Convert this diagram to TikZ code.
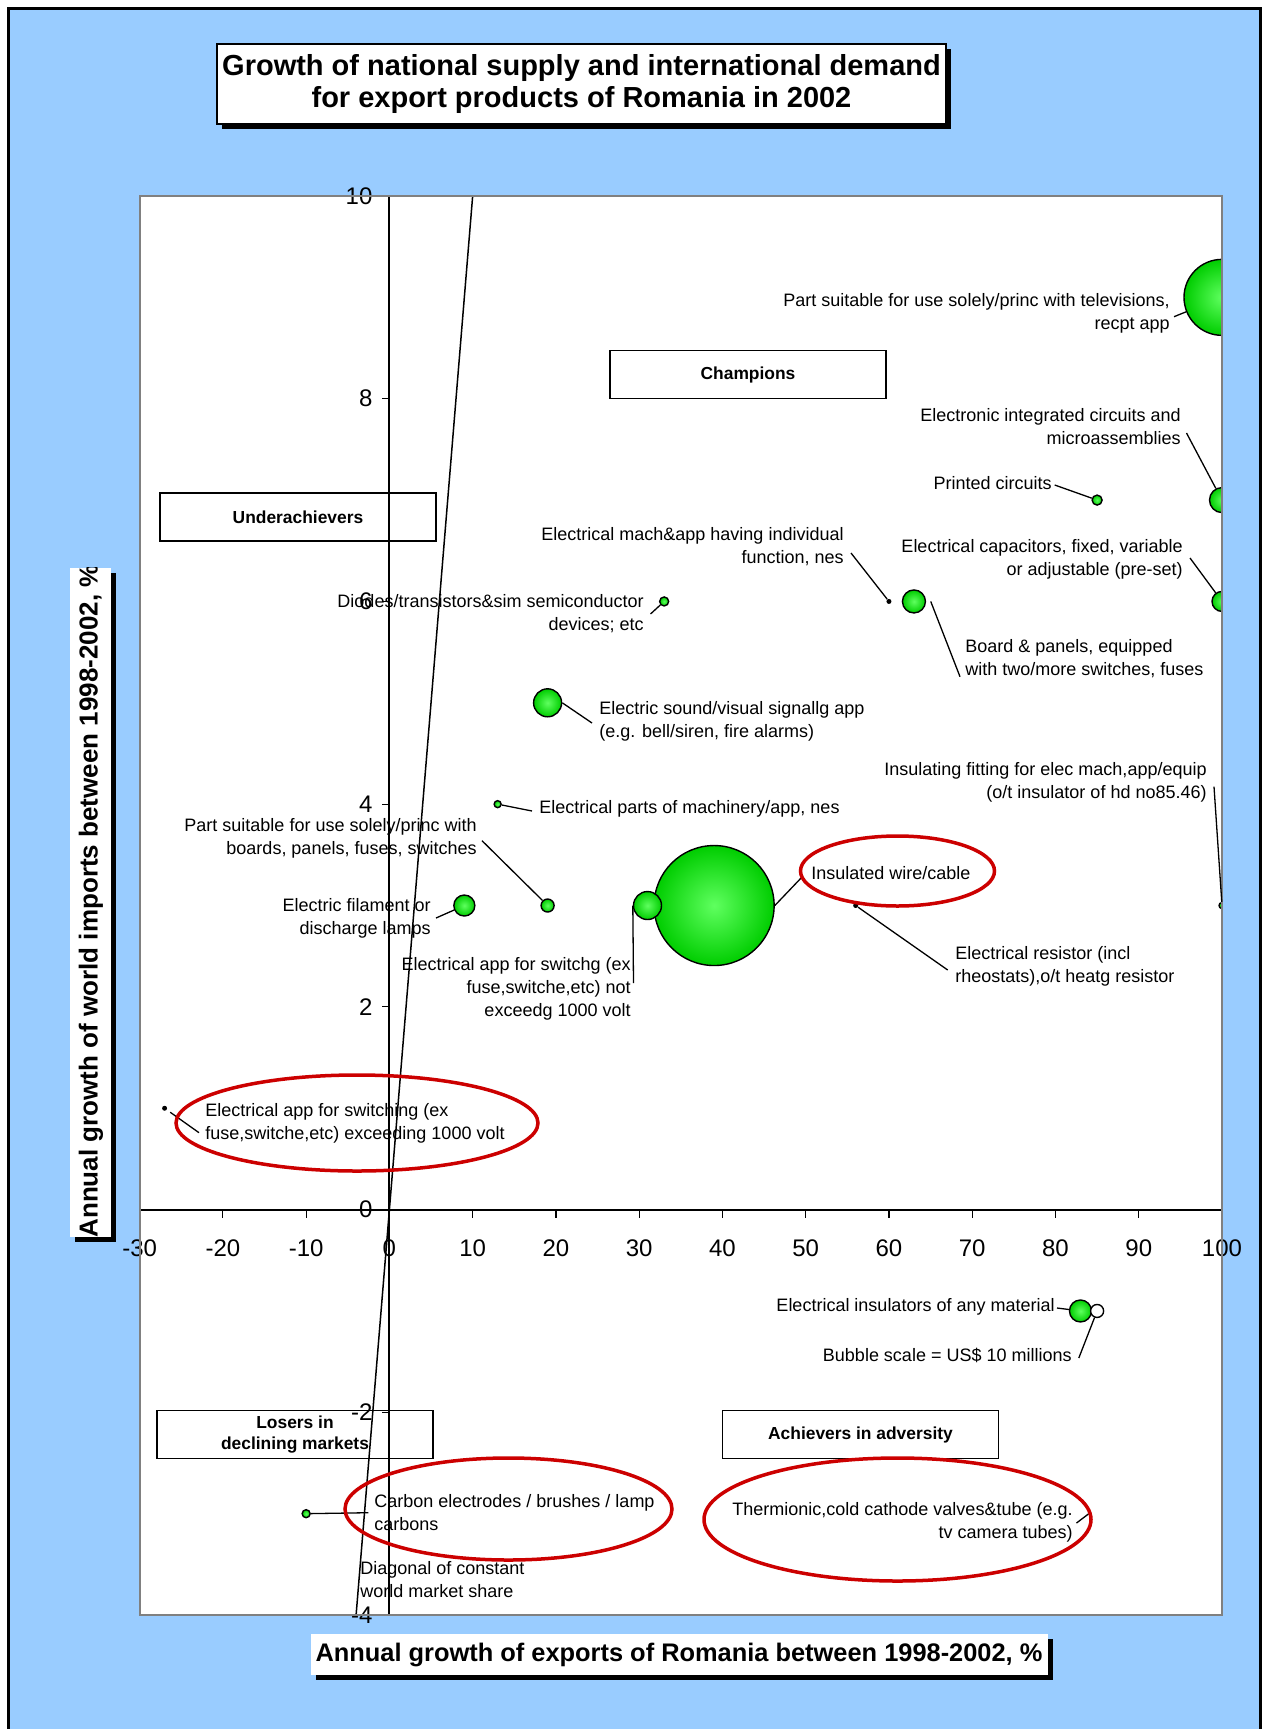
\documentclass[tikz,border=0pt]{standalone}
\usepackage{fontspec}
\setmainfont{Liberation Sans}
\usepackage{tikz}
\usetikzlibrary{shadows}

\definecolor{paneblue}{RGB}{153,204,255}
\definecolor{ringred}{RGB}{204,0,0}
\definecolor{bubhi}{RGB}{95,255,95}
\definecolor{bublo}{RGB}{0,205,0}
\definecolor{frameg}{RGB}{128,128,128}

\tikzset{
  bubble/.style={circle, inner sep=0pt, draw=black, line width=0.7pt, shade, inner color=bubhi, outer color=bublo, minimum size=#1},
  tinybub/.style={circle, inner sep=0pt, fill=black, minimum size=#1},
  scalebub/.style={circle, inner sep=0pt, draw=black, line width=0.7pt, fill=white, minimum size=6.5pt},
  lbl/.style={inner sep=0pt, font=\fontsize{9}{11.5}\selectfont},
  leader/.style={draw=black, line width=0.65pt},
  ring/.style={draw=ringred, line width=1.75pt},
  quadbox/.style={draw=black, line width=0.8pt, fill=white, align=center, inner sep=0pt, minimum width=138pt, minimum height=24pt, font=\bfseries\fontsize{8.7}{10.8}\selectfont},
  titlebox/.style={draw=black, line width=0.75pt, fill=white, align=center, inner sep=0pt, minimum width=364.5pt, minimum height=40pt, font=\bfseries\fontsize{14.5}{16.5}\selectfont, general shadow={fill=black, shadow xshift=2.5pt, shadow yshift=-2.5pt}},
  axtitle/.style={fill=white, inner sep=0pt, general shadow={fill=black, shadow xshift=2.5pt, shadow yshift=-2.5pt}},
  axisline/.style={line width=1pt},
  tickline/.style={line width=0.6pt},
  ticklbl/.style={inner sep=0pt, font=\fontsize{12}{14}\selectfont},
  diagline/.style={line width=0.75pt}
}

\begin{document}
\begin{tikzpicture}[x=0.5pt,y=0.5pt,yscale=-1,xscale=1]
\useasboundingbox (0,0) rectangle (1263,1729);

%Background and frame
\fill[white] (0,0) rectangle (1263,1729);
\draw[fill=paneblue, line width=1.5pt] (8,8) rectangle (1260,1745);

%Plot area
\fill[white] (139.6,196) rectangle (1222,1615);

% Quadrant boxes
\node[quadbox] (champ) at (748,374.5) {Champions};
\node[quadbox] (under) at (298,517) {Underachievers};
\node[quadbox] (loser) at (295,1434.5) {Losers in\\declining markets};
\node[quadbox] (adver) at (860.5,1434.5) {Achievers in adversity};

%Chart in data units
\begin{scope}[shift={(389.4,1209.6)},yscale=-1,x=4.163pt,y=50.68pt]
\draw[axisline] (-30,0) -- (100,0);
\draw[axisline] (0,-4) -- (0,10);
\foreach \xv in {-30,-20,...,100} {
  \draw[tickline] (\xv,0) -- ++(0,-4pt);
  \node[ticklbl, anchor=north] (xt\xv) at ([yshift=-14.8pt]\xv,0) {\xv};
}
\foreach \yv in {-4,-2,...,10} {
  \draw[tickline] (0,\yv) -- ++(-3.5pt,0);
  \node[ticklbl, anchor=east] (yt\yv) at ([xshift=-8.3pt]0,\yv) {\yv};
}
%Diagonal of constant share
\coordinate (diaglo) at (-4,-4);
\coordinate (diaghi) at (10,10);
\draw[diagline] (diaglo) -- (diaghi);

%Bubbles
\begin{scope}
\clip (-30,-4) rectangle (100,10);
\node[bubble=38pt] (tv) at (100,9) {};
\node[bubble=12.5pt] (ic) at (100,7) {};
\node[bubble=5pt] (pc) at (85,7) {};
\node[bubble=10pt] (cap) at (100,6) {};
\node[bubble=11.5pt] (board) at (63,6) {};
\node[tinybub=2.5pt] (mach) at (60,6) {};
\node[bubble=4.5pt] (diod) at (33,6) {};
\node[bubble=14pt] (sound) at (19,5) {};
\node[bubble=3.5pt] (parts) at (13,4) {};
\node[bubble=6.5pt] (boards) at (19,3) {};
\node[bubble=10.5pt] (lamp) at (9,3) {};
\node[bubble=60pt] (wire) at (39,3) {};
\node[bubble=14pt] (sw) at (31,3) {};
\node[tinybub=2.5pt] (resist) at (56,3) {};
\node[bubble=3pt] (fit) at (100,3) {};
\node[tinybub=2.5pt] (hv) at (-27,1) {};
\node[bubble=11pt] (insul) at (83,-1) {};
\node[scalebub] (bubscale) at (85,-1) {};
\node[bubble=4pt] (carbon) at (-10,-3) {};
\coordinate (therm) at (84,-3);
\end{scope}
\end{scope}

%Plot border
\draw[draw=frameg, line width=1pt] (139.6,196) rectangle (1222,1615);

%Leader lines
\coordinate (tvpt) at (1174,316.7);
\coordinate (icpt) at (1186.5,433);
\coordinate (pcpt) at (1054.7,485);
\coordinate (cappt) at (1190,558);
\coordinate (machpt) at (851,553);
\coordinate (boardpt) at (960,676.7);
\coordinate (diodpt) at (650.5,614);
\coordinate (soundpt) at (592,723);
\coordinate (partspt) at (532,811);
\coordinate (boardspt) at (482,840.7);
\coordinate (lamppt) at (436,918);
\coordinate (swpt) at (633.5,983);
\coordinate (wirept) at (802.3,876.7);
\coordinate (resistpt) at (947.7,970);
\coordinate (fitpt) at (1214,786.7);
\coordinate (hvpt) at (199,1132.7);
\coordinate (insulpt) at (1057,1308);
\coordinate (scalept) at (1078.8,1358);
\coordinate (carbonpt) at (368.4,1512.7);
\coordinate (thermpt) at (1076.5,1523);
\draw[leader] (tvpt) -- (tv);
\draw[leader] (icpt) -- (ic);
\draw[leader] (pcpt) -- (pc);
\draw[leader] (cappt) -- (cap);
\draw[leader] (machpt) -- (mach);
\draw[leader] ([xshift=2.3pt]board.east) -- (boardpt);
\draw[leader] (diodpt) -- (diod);
\draw[leader] (sound.east) -- (soundpt);
\draw[leader] (partspt) -- (parts);
\draw[leader] (boardspt) -- (boards);
\draw[leader] (lamppt) -- (lamp);
\draw[leader] (swpt) -- (sw.west);
\draw[leader] (wire.east) -- (wirept);
\draw[leader] (resist) -- (resistpt);
\draw[leader] (fitpt) -- (fit);
\draw[leader, shorten <=2pt] (hv) -- (hvpt);
\draw[leader] (insulpt) -- (insul);
\draw[leader] (scalept) -- (bubscale);
\draw[leader] (carbon) -- (carbonpt);
\draw[leader] (thermpt) -- (therm);

% Text Node
\node[lbl, anchor=east, align=right] (tvlbl) at (1170,313) {Part suitable for use solely/princ with televisions,\\recpt app};
% Text Node
\node[lbl, anchor=east, align=right] (iclbl) at (1181,427) {Electronic integrated circuits and\\microassemblies};
% Text Node
\node[lbl, anchor=east, align=right] (pclbl) at (1052,483) {Printed circuits};
% Text Node
\node[lbl, anchor=east, align=right] (caplbl) at (1183,559) {Electrical capacitors, fixed, variable\\or adjustable (pre-set)};
% Text Node
\node[lbl, anchor=east, align=right] (machlbl) at (844,547) {Electrical mach\&app having individual\\function, nes};
% Text Node
\node[lbl, anchor=west, align=left] (boardlbl) at (965,658.5) {Board \& panels, equipped\\with two/more switches, fuses};
% Text Node
\node[lbl, anchor=east, align=right] (diodlbl) at (644,614) {Diodes/transistors\&sim semiconductor\\devices; etc};
% Text Node
\node[lbl, anchor=west, align=left] (soundlbl) at (599,721) {Electric sound/visual signallg app\\(e.g. bell/siren, fire alarms)};
% Text Node
\node[lbl, anchor=west, align=left] (partslbl) at (539,809) {Electrical parts of machinery/app, nes};
% Text Node
\node[lbl, anchor=east, align=right] (boardslbl) at (477,838) {Part suitable for use solely/princ with\\boards, panels, fuses, switches};
% Text Node
\node[lbl, anchor=east, align=right] (lamplbl) at (431,918.5) {Electric filament or\\discharge lamps};
% Text Node
\node[lbl, anchor=east, align=right] (swlbl) at (631,988.5) {Electrical app for switchg (ex\\fuse,switche,etc) not\\exceedg 1000 volt};
% Text Node
\node[lbl, anchor=west, align=left] (wirelbl) at (811,873) {Insulated wire/cable};
% Text Node
\node[lbl, anchor=west, align=left] (resistlbl) at (955,966) {Electrical resistor (incl\\rheostats),o/t heatg resistor};
% Text Node
\node[lbl, anchor=east, align=right] (fitlbl) at (1207,782) {Insulating fitting for elec mach,app/equip\\(o/t insulator of hd no85.46)};
% Text Node
\node[lbl, anchor=west, align=left] (hvlbl) at (205,1123.5) {Electrical app for switching (ex\\fuse,switche,etc) exceeding 1000 volt};
% Text Node
\node[lbl, anchor=east, align=right] (insullbl) at (1055,1307) {Electrical insulators of any material};
% Text Node
\node[lbl, anchor=east, align=right] (scalelbl) at (1072,1355) {Bubble scale = US\$ 10 millions};
% Text Node
\node[lbl, anchor=west, align=left] (carbonlbl) at (374,1512.5) {Carbon electrodes / brushes / lamp\\carbons};
% Text Node
\node[lbl, anchor=east, align=right] (thermlbl) at (1073,1522.5) {Thermionic,cold cathode valves\&tube (e.g.\\tv camera tubes)};
% Text Node
\node[lbl, anchor=west, align=left] (diaglbl) at (360,1580) {Diagonal of constant\\world market share};

%Red rings
\draw[ring] (897.5,871) ellipse [x radius=97, y radius=35];
\draw[ring] (357,1123) ellipse [x radius=181, y radius=48];
\draw[ring] (508.5,1509) ellipse [x radius=163.5, y radius=51];
\draw[ring] (897.5,1519.5) ellipse [x radius=193.5, y radius=61.5];

%Titles
\node[titlebox] (title) at (581.5,84) {Growth of national supply and international demand\\for export products of Romania in 2002};
\node[axtitle, minimum width=368.5pt, minimum height=20.5pt, font=\bfseries\fontsize{12.7}{15}\selectfont] (xtitle) at (679,1654.5) {Annual growth of exports of Romania between 1998-2002, \%};
\node[axtitle, minimum width=20.5pt, minimum height=334.5pt] (ybox) at (90.5,902.5) {};
\begin{scope}
\clip (ybox.south west) rectangle (ybox.north east);
\node[inner sep=0pt, rotate=90, anchor=west, font=\bfseries\fontsize{13}{15}\selectfont] (ytitle) at (91,1238) {Annual growth of world imports between 1998-2002, \%};
\end{scope}

\end{tikzpicture}
\end{document}
